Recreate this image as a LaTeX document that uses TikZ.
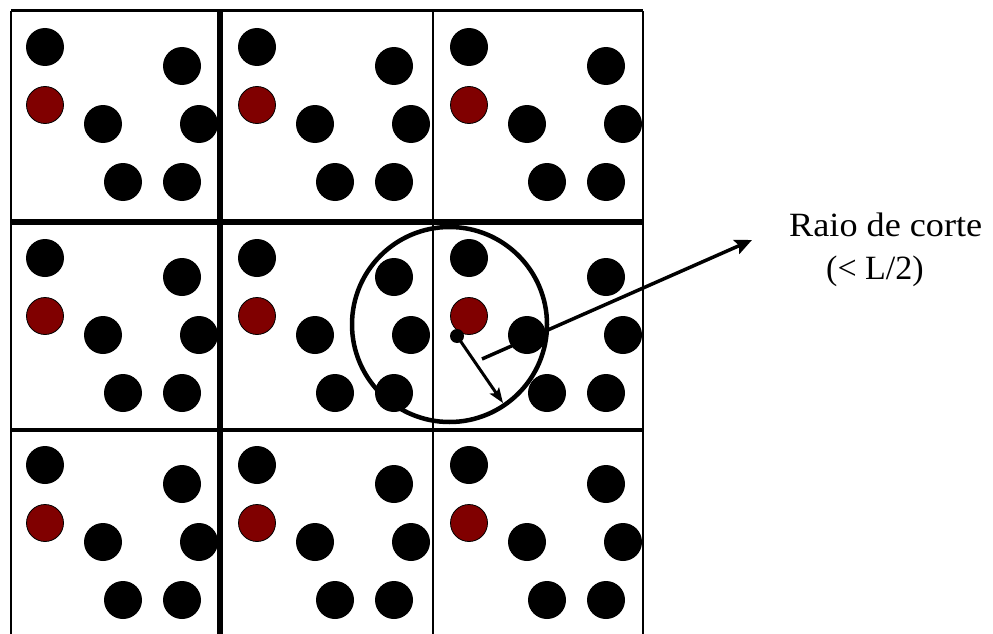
\documentclass[tikz,border=0pt]{standalone}
\usepackage{fontspec}
\setmainfont{Liberation Serif}
\usetikzlibrary{arrows.meta}

\definecolor{bordo}{RGB}{128,0,0}

\begin{document}
\begin{tikzpicture}[x=1pt, y=-1pt,
    rotulo/.style={font=\fontsize{34}{41}\selectfont, inner sep=0pt, anchor=base west}]
    \useasboundingbox (0,0) rectangle (993,634);

    % Particles of each periodic image
    \foreach \dx/\dy in {0/0, 212/0, 424/0, 0/211, 212/211, 424/211, 0/418, 212/418, 424/418} {
        \begin{scope}[shift={(\dx,\dy)}]
            \foreach \px/\py in {45/47, 182/66, 103/124, 199/124, 123/182, 182/182}
                \fill (\px,\py) circle (19pt);
            \filldraw[fill=bordo, draw=black, line width=0.8pt] (45,105) circle (18.5pt);
        \end{scope}
    }

    % Box boundaries
    \draw[line width=3pt] (11,11) -- (643,11);
    \draw[line width=5.5pt] (11,222) -- (643,222);
    \draw[line width=4pt] (11,429.5) -- (643,429.5);
    \draw[line width=2.5pt] (11,11) -- (11,634);
    \draw[line width=5.5pt] (220,11) -- (220,634);
    \draw[line width=2pt] (432.5,11) -- (432.5,634);
    \draw[line width=2.5pt] (643,11) -- (643,634);

    % Cut-off sphere
    \draw[line width=4.5pt] (449.5,324.5) circle (97.5pt);
    \node[circle, fill, inner sep=0pt, minimum size=14pt] (centro) at (457,336) {};
    \coordinate (borda) at (503,403);
    \draw[line width=3pt, -{Stealth[length=15pt, width=11pt, inset=3pt]}] (centro.center) -- (borda);

    % Label
    \node[rotulo, xscale=1.065] (raio) at (789,236) {Raio de corte};
    \node[rotulo] (limite) at (826,279) {(< L/2)};
    \coordinate (inicio) at (482,359);
    \coordinate (ponta) at (752,240);
    \draw[line width=3.5pt, -{Stealth[length=17pt, width=15pt, inset=3pt]}] (inicio) -- (ponta);
\end{tikzpicture}
\end{document}
